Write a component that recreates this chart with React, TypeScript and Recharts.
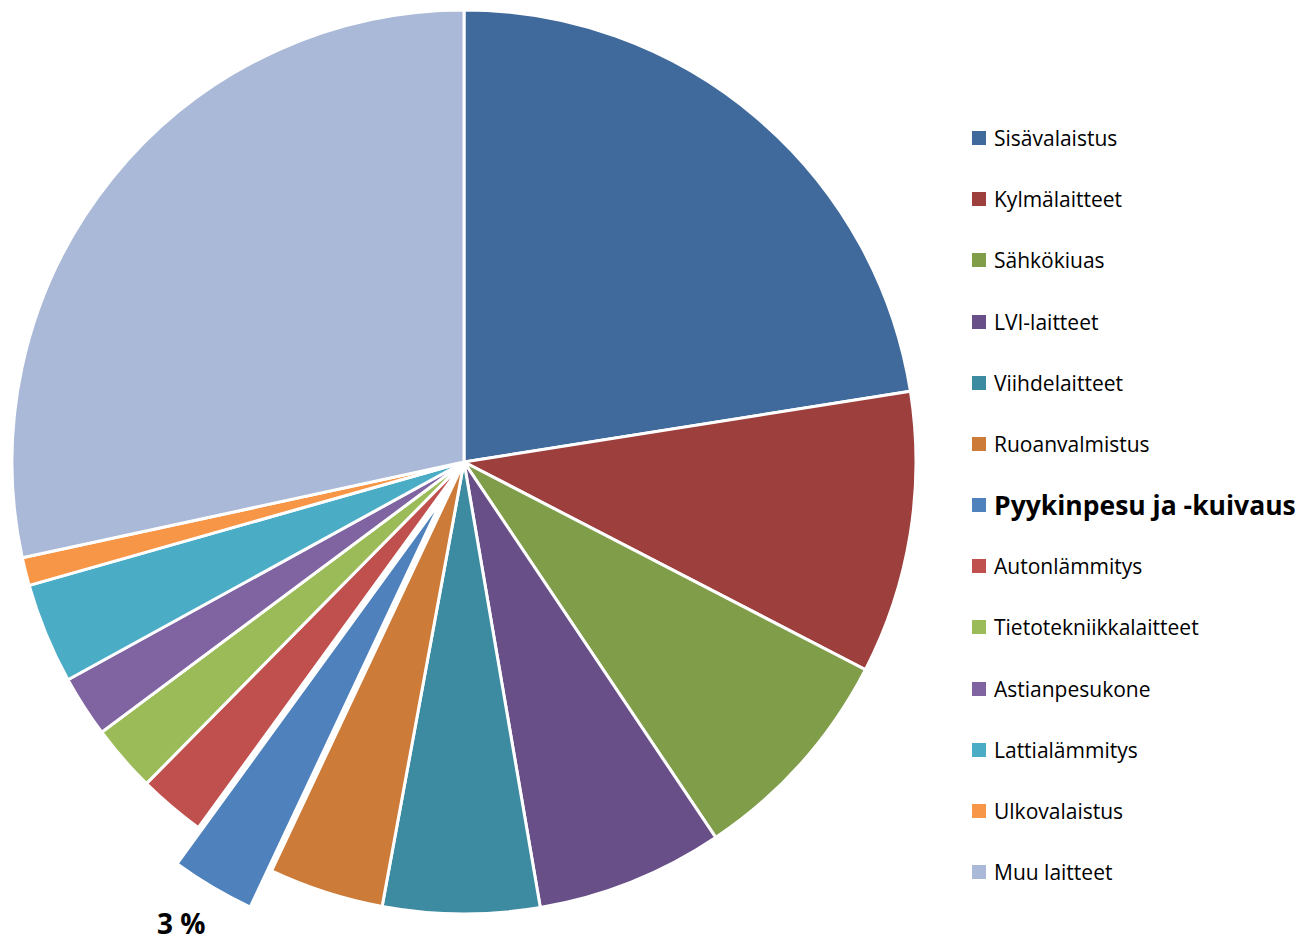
import React from "react";
import { PieChart, Pie, Cell, Legend } from "recharts";

const categories = [
  "Sisävalaistus",
  "Kylmälaitteet",
  "Sähkökiuas",
  "LVI-laitteet",
  "Viihdelaitteet",
  "Ruoanvalmistus",
  "Pyykinpesu ja -kuivaus",
  "Autonlämmitys",
  "Tietotekniikkalaitteet",
  "Astianpesukone",
  "Lattialämmitys",
  "Ulkovalaistus",
  "Muu laitteet",
];

const shares = [22.5, 10.1, 8.0, 6.7, 5.6, 4.1, 3.0, 2.4, 2.4, 2.2, 3.6, 1.0, 28.4];

const colors = [
  "#416A9C",
  "#9D403D",
  "#809D4A",
  "#694F87",
  "#3C8BA1",
  "#CC7B38",
  "#4F81BD",
  "#C0504D",
  "#9BBB59",
  "#8064A2",
  "#4BACC6",
  "#F79646",
  "#AAB9D7",
];

const highlightIndex = 6;

const data = categories.map((name, i) => ({ name, value: shares[i] }));

const FONT = "'Open Sans', 'Noto Sans', sans-serif";
const RAD = Math.PI / 180;

const CX = 464;
const CY = 462;
const R = 452;
const EXPLODE = 42;

const renderLabel = (props: any) => {
  const { cx, cy, midAngle, outerRadius, index, percent } = props;
  if (index !== highlightIndex) return null;
  const r = outerRadius + 44;
  const x = cx + r * Math.cos(-midAngle * RAD);
  const y = cy + r * Math.sin(-midAngle * RAD);
  return (
    <text
      x={x}
      y={y}
      dx={-9}
      dy={9}
      textAnchor="middle"
      fill="#000"
      fontFamily={FONT}
      fontWeight="bold"
      fontSize={28}
    >
      {`${Math.round(percent * 100)} %`}
    </text>
  );
};

const legendTop = 138;
const legendStep = 61.17;

const renderLegend = () => (
  <div style={{ position: "relative", width: 1299, height: 942 }}>
    {categories.map((name, i) => {
      const yc = legendTop + i * legendStep;
      const bold = i === highlightIndex;
      return (
        <React.Fragment key={name}>
          <div
            style={{
              position: "absolute",
              left: 972,
              top: yc - 7,
              width: 14,
              height: 14,
              background: colors[i],
            }}
          />
          <div
            style={{
              position: "absolute",
              left: 994,
              top: yc - 18,
              height: 36,
              lineHeight: "36px",
              fontFamily: FONT,
              fontSize: bold ? 26.5 : 21,
              fontWeight: bold ? "bold" : "normal",
              color: "#000",
              whiteSpace: "nowrap",
            }}
          >
            {name}
          </div>
        </React.Fragment>
      );
    })}
  </div>
);

export default function App() {
  const mid = (() => {
    let before = 0;
    for (let i = 0; i < highlightIndex; i++) before += shares[i];
    const total = shares.reduce((a, b) => a + b, 0);
    return ((before + shares[highlightIndex] / 2) / total) * 360;
  })();
  const ex = CX + EXPLODE * Math.sin(mid * RAD);
  const ey = CY - EXPLODE * Math.cos(mid * RAD);

  return (
    <div style={{ position: "absolute", left: 0, top: 0, width: 1299, height: 942, background: "#fff" }}>
      <PieChart width={1299} height={942} margin={{ top: 0, right: 0, bottom: 0, left: 0 }}>
        <Pie
          data={data}
          dataKey="value"
          nameKey="name"
          cx={CX}
          cy={CY}
          outerRadius={R}
          innerRadius={0}
          startAngle={90}
          endAngle={-270}
          isAnimationActive={false}
          legendType="none"
          label={false}
          labelLine={false}
        >
          {data.map((d, i) => (
            <Cell
              key={d.name}
              fill={i === highlightIndex ? "transparent" : colors[i]}
              stroke={i === highlightIndex ? "none" : "#ffffff"}
              strokeWidth={3}
            />
          ))}
        </Pie>
        <Pie
          data={data}
          dataKey="value"
          nameKey="name"
          cx={ex}
          cy={ey}
          outerRadius={R}
          innerRadius={0}
          startAngle={90}
          endAngle={-270}
          isAnimationActive={false}
          legendType="none"
          label={renderLabel}
          labelLine={false}
        >
          {data.map((d, i) => (
            <Cell
              key={d.name}
              fill={i === highlightIndex ? colors[i] : "transparent"}
              stroke={i === highlightIndex ? "#ffffff" : "none"}
              strokeWidth={3}
            />
          ))}
        </Pie>
        <Legend
          content={renderLegend}
          wrapperStyle={{ position: "absolute", left: 0, top: 0, width: 1299, height: 942, pointerEvents: "none" }}
        />
      </PieChart>
    </div>
  );
}
